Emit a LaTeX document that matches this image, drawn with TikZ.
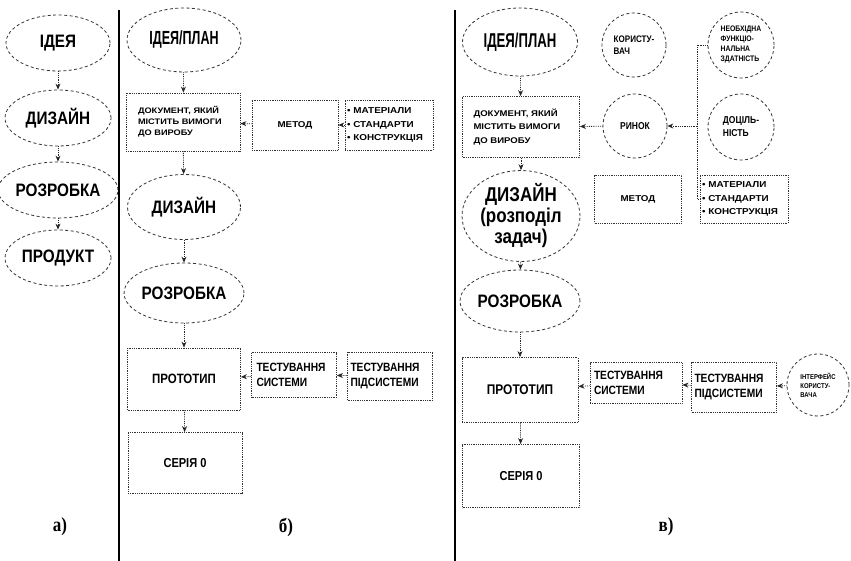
\documentclass[tikz,border=0pt]{standalone}
\usepackage{fontspec}
\setmainfont{Liberation Sans}[FakeStretch=0.85]
\newfontfamily\narrowfont{Liberation Sans}[FakeStretch=0.66]
\newfontfamily\widefont{Liberation Sans}[FakeStretch=1.15]
\newfontfamily\lblfont{Liberation Serif}[FakeStretch=0.85]
\usetikzlibrary{arrows.meta,shapes.geometric}
\newcommand{\ttl}{\fontsize{18}{21}\selectfont\bfseries}
\newcommand{\fs}[2]{\fontsize{#1}{#2}\selectfont\bfseries}
\newcommand{\ws}[2]{\widefont\fontsize{#1}{#2}\selectfont\bfseries}
\tikzset{
  oval/.style={ellipse, draw=black!80, line width=0.8pt, dash pattern=on 3pt off 2.5pt, inner sep=0pt, font=\ttl, align=center},
  box/.style={rectangle, draw=black!80, line width=0.8pt, densely dotted, inner sep=0pt, align=center},
  circ/.style={circle, draw=black!80, line width=0.8pt, dash pattern=on 3pt off 2.5pt, inner sep=0pt, minimum size=64pt, align=left},
  arr/.style={draw=black!85, line width=0.8pt, densely dotted, -{Stealth[length=6pt,width=5pt]}},
  link/.style={draw=black!85, line width=0.8pt, densely dotted},
  divider/.style={line width=2.5pt},
  panel/.style={font=\lblfont\fontsize{20}{22}\selectfont\bfseries}
}

\begin{document}
\begin{tikzpicture}[x=1pt,y=-1pt]
  \useasboundingbox (0,0) rectangle (851,561);

  %%%%% a) %%%%%
  \node[oval, minimum width=104pt, minimum height=56pt] (aidea) at (58,43) {ІДЕЯ};
  \node[oval, minimum width=106pt, minimum height=56pt] (ades) at (58,118) {ДИЗАЙН};
  \node[oval, minimum width=106pt, minimum height=56pt] (adev) at (58,190) {РОЗРОБКА};
  \node[oval, minimum width=106pt, minimum height=56pt] (aprod) at (58,258) {ПРОДУКТ};
  \draw[arr] (aidea) -- (ades);
  \draw[arr] (ades) -- (adev);
  \draw[arr] (adev) -- (aprod);
  \node[panel] (alab) at (60,527) {а)};

  \draw[divider] (119,10) -- (119,561);

  %%%%% б) %%%%%
  \node[oval, minimum width=114pt, minimum height=64pt, font=\narrowfont\fs{19}{21}] (bidea) at (184,40) {ІДЕЯ/ПЛАН};
  \node[box, minimum width=114pt, minimum height=58pt, text width=90pt, align=left, font=\ws{8}{11}] (bdoc) at (183,122)
    {ДОКУМЕНТ, ЯКИЙ\\МІСТИТЬ ВИМОГИ\\ДО ВИРОБУ};
  \node[box, minimum width=86pt, minimum height=50pt, font=\ws{8.5}{11}] (bmeth) at (295,125) {МЕТОД};
  \node[box, minimum width=88pt, minimum height=50pt, text width=84pt, align=left, font=\ws{8.6}{13.5}] (bmat) at (389,125)
    {• МАТЕРІАЛИ\\• СТАНДАРТИ\\• КОНСТРУКЦІЯ};
  \node[oval, minimum width=113pt, minimum height=65pt] (bdes) at (184,207) {ДИЗАЙН};
  \node[oval, minimum width=112pt, minimum height=60pt] (bdev) at (184,293) {РОЗРОБКА};
  \node[box, minimum width=113pt, minimum height=62pt, font=\fs{13.5}{15}] (bproto) at (184,379) {ПРОТОТИП};
  \node[box, minimum width=85pt, minimum height=45pt, text width=75pt, align=left, font=\fs{12}{15}] (btsys) at (294,375)
    {ТЕСТУВАННЯ\\СИСТЕМИ};
  \node[box, minimum width=85pt, minimum height=48pt, text width=79pt, align=left, font=\fs{12}{15}] (btsub) at (390,376)
    {ТЕСТУВАННЯ\\ПІДСИСТЕМИ};
  \node[box, minimum width=114pt, minimum height=61pt, font=\fs{13}{15}] (bser) at (185,463) {СЕРІЯ 0};
  \draw[arr] (bidea) -- (bdoc);
  \draw[arr] (bmeth) -- (bdoc);
  \draw[arr] (bmat) -- (bmeth);
  \draw[arr] (bdoc) -- (bdes);
  \draw[arr] (bdes) -- (bdev);
  \draw[arr] (bdev) -- (bproto);
  \draw[arr] (btsys) -- (bproto);
  \draw[arr] (btsub) -- (btsys);
  \draw[arr] (bproto) -- (bser);
  \node[panel] (blab) at (286,527) {б)};

  \draw[divider] (455,10) -- (455,561);

  %%%%% в) %%%%%
  \node[oval, minimum width=115pt, minimum height=68pt, font=\narrowfont\fs{20}{22}] (cidea) at (520,42) {ІДЕЯ/ПЛАН};
  \node[box, minimum width=117pt, minimum height=61pt, text width=95pt, align=left, font=\ws{8.3}{13.5}] (cdoc) at (521,127)
    {ДОКУМЕНТ, ЯКИЙ\\МІСТИТЬ ВИМОГИ\\ДО ВИРОБУ};
  \node[circ, font=\fs{9.5}{12}] (cuser) at (634,45) {КОРИСТУ-\\ВАЧ};
  \node[circ, font=\fs{10}{12}] (cmarket) at (635,126) {РИНОК};
  \node[circ, minimum size=66pt, font=\fs{8}{10}] (cfunc) at (741,45) {НЕОБХІДНА\\ФУНКЦІО-\\НАЛЬНА\\ЗДАТНІСТЬ};
  \node[circ, minimum size=66pt, font=\fs{10}{13}] (cfit) at (741,127) {ДОЦІЛЬ-\\НІСТЬ};
  \node[box, minimum width=87pt, minimum height=48pt, font=\ws{8.5}{11}] (cmeth) at (638,199) {МЕТОД};
  \node[box, minimum width=88pt, minimum height=48pt, text width=84pt, align=left, font=\ws{8.6}{13.5}] (cmat) at (744,199)
    {• МАТЕРІАЛИ\\• СТАНДАРТИ\\• КОНСТРУКЦІЯ};
  \node[oval, minimum width=118pt, minimum height=74pt, font=\fs{20}{21}] (cdes) at (521,216) {ДИЗАЙН\\(розподіл\\задач)};
  \node[oval, minimum width=116pt, minimum height=62pt] (cdev) at (520,301) {РОЗРОБКА};
  \node[box, minimum width=116pt, minimum height=65pt, font=\fs{14}{15}] (cproto) at (520,390) {ПРОТОТИП};
  \node[box, minimum width=92pt, minimum height=41pt, text width=84pt, align=left, font=\fs{12}{15}] (ctsys) at (636,383)
    {ТЕСТУВАННЯ\\СИСТЕМИ};
  \node[box, minimum width=85pt, minimum height=50pt, text width=79pt, align=left, font=\fs{12}{15}] (ctsub) at (734,387)
    {ТЕСТУВАННЯ\\ПІДСИСТЕМИ};
  \node[circ, minimum size=62pt, font=\fs{7}{9}] (cui) at (818,385) {ІНТЕРФЕЙС\\КОРИСТУ-\\ВАЧА};
  \node[box, minimum width=117pt, minimum height=63pt, font=\fs{13}{15}] (cser) at (521,476) {СЕРІЯ 0};
  \coordinate (brtop) at (697,45);
  \coordinate (brmid) at (697,126);
  \draw[link] (cfunc.west) -- (brtop) |- (cmat.west);
  \draw[arr] (brmid) -- (cmarket);
  \draw[arr] (cmarket) -- (cdoc);
  \draw[arr] (cidea) -- (cdoc);
  \draw[arr] (cdoc) -- (cdes);
  \draw[arr] (cdes) -- (cdev);
  \draw[arr] (cdev) -- (cproto);
  \draw[arr] (ctsys) -- (cproto);
  \draw[arr] (ctsub) -- (ctsys);
  \draw[arr] (cui) -- (ctsub);
  \draw[arr] (cproto) -- (cser);
  \node[panel] (clab) at (666,527) {в)};
\end{tikzpicture}
\end{document}
